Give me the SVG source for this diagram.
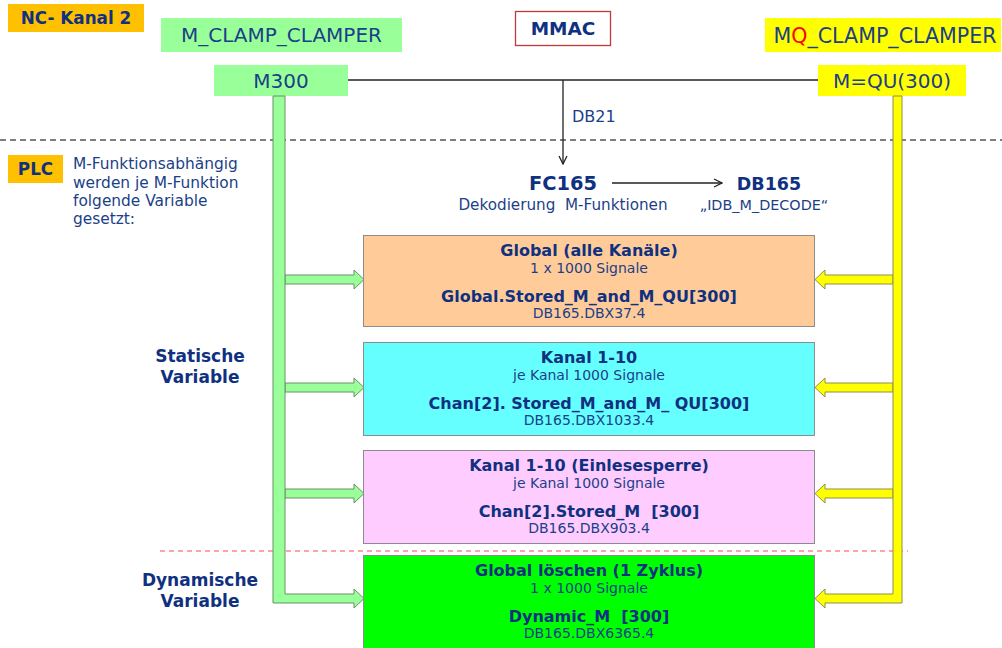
<svg xmlns="http://www.w3.org/2000/svg" width="1002" height="648" viewBox="0 0 1002 648">
  <style>
    text { font-family: "DejaVu Sans", Verdana, sans-serif; fill: #1B3F88; white-space: pre; }
    .b { font-weight: bold; fill: #0F3180; }
    .hdr { font-size: 20px; }
    .t { font-size: 16px; font-weight: bold; fill: #0F3180; text-anchor: middle; }
    .s { font-size: 14px; text-anchor: middle; }
    .c { text-anchor: middle; }
    .box { stroke: #8C8C8C; stroke-width: 1; }
    .garrow { fill: #99FF99; stroke: #6A8F6A; stroke-width: 1; }
    .yarrow { fill: #FFFF00; stroke: #8F8F50; stroke-width: 1; }
    .line { stroke: #222; stroke-width: 1.3; fill: none; }
  </style>
  <defs>
    <marker id="open" viewBox="0 0 10 10" refX="9" refY="5" markerWidth="10" markerHeight="10" markerUnits="userSpaceOnUse" orient="auto">
      <path d="M1,1 L9,5 L1,9" fill="none" stroke="#222" stroke-width="1.3"/>
    </marker>
  </defs>

  <rect width="1002" height="648" fill="#FFFFFF"/>

  <!-- section separators -->
  <line x1="0" y1="140" x2="1002" y2="140" stroke="#555" stroke-width="1.3" stroke-dasharray="6,4"/>
  <line x1="160" y1="551" x2="908" y2="551" stroke="#FF4B4B" stroke-width="1.2" stroke-dasharray="5,4"/>

  <!-- section labels -->
  <g id="nc-label">
    <rect x="8" y="4" width="136" height="28" fill="#FFC000"/>
    <text x="76" y="24" class="b c" font-size="16.8">NC- Kanal 2</text>
  </g>
  <g id="plc-label">
    <rect x="8" y="155" width="55" height="28" fill="#FFC000"/>
    <text x="35.5" y="175" class="b c" font-size="16.8">PLC</text>
  </g>
  <g id="plc-note" font-size="15.4">
    <text x="73" y="169">M-Funktionsabhängig</text>
    <text x="73" y="188">werden je M-Funktion</text>
    <text x="73" y="206">folgende Variable</text>
    <text x="73" y="224">gesetzt:</text>
  </g>

  <!-- NC side -->
  <g id="m-clamp">
    <rect x="161" y="18" width="241" height="34" fill="#99FF99"/>
    <text x="281.5" y="42" class="hdr c">M_CLAMP_CLAMPER</text>
  </g>
  <g id="mmac">
    <rect x="515.5" y="11.5" width="95" height="34" fill="#FFFFFF" stroke="#C0393B" stroke-width="1.3"/>
    <text x="563" y="35" class="b c" font-size="18.5">MMAC</text>
  </g>
  <g id="mq-clamp">
    <rect x="765" y="18" width="236" height="34" fill="#FFFF00"/>
    <text x="885" y="42.5" class="c" font-size="20.6">M<tspan fill="#FF0000">Q</tspan>_CLAMP_CLAMPER</text>
  </g>
  <g id="m300">
    <rect x="214" y="65" width="134" height="31" fill="#99FF99"/>
    <text x="281" y="88" class="hdr c">M300</text>
  </g>
  <g id="mqu300">
    <rect x="818" y="65" width="148" height="31" fill="#FFFF00"/>
    <text x="892" y="88" class="hdr c">M=QU(300)</text>
  </g>

  <!-- PLC function block -->
  <g id="fc165">
    <text x="563" y="190" class="b c" font-size="19.4">FC165</text>
    <text x="563" y="210" class="c" font-size="15.2">Dekodierung  M-Funktionen</text>
  </g>
  <g id="db165">
    <text x="769" y="190" class="b c" font-size="17.5">DB165</text>
    <text x="764" y="210" class="c" font-size="14.4">„IDB_M_DECODE“</text>
  </g>

  <!-- connectors -->
  <g id="connectors">
    <line class="line" x1="348" y1="80" x2="818" y2="80"/>
    <line class="line" x1="563" y1="80" x2="563" y2="164" marker-end="url(#open)"/>
    <text x="572" y="122" font-size="16">DB21</text>
    <line class="line" x1="612" y1="183" x2="722" y2="183" marker-end="url(#open)"/>

    <!-- M300 distribution bar -->
    <path class="garrow" d="M285,275 H354 V270 L364,279.5 L354,289 V284 H285 Z"/>
    <path class="garrow" d="M285,383 H354 V378 L364,387.5 L354,397 V392 H285 Z"/>
    <path class="garrow" d="M285,489 H354 V484 L364,493.5 L354,503 V498 H285 Z"/>
    <path class="garrow" d="M273,96 H285 V594 H354 V589 L364,598.5 L354,608 V603 H273 Z"/>

    <!-- M=QU(300) distribution bar -->
    <path class="yarrow" d="M893,275 H825 V270 L815,279.5 L825,289 V284 H893 Z"/>
    <path class="yarrow" d="M893,383 H825 V378 L815,387.5 L825,397 V392 H893 Z"/>
    <path class="yarrow" d="M893,489 H825 V484 L815,493.5 L825,503 V498 H893 Z"/>
    <path class="yarrow" d="M902,96 H893 V594 H825 V589 L815,598.5 L825,608 V603 H902 Z"/>
  </g>

  <!-- variable groups -->
  <g id="static-label">
    <text x="200" y="362" class="b c" font-size="17">Statische</text>
    <text x="200" y="383" class="b c" font-size="17">Variable</text>
  </g>
  <g id="dynamic-label">
    <text x="200" y="586" class="b c" font-size="17">Dynamische</text>
    <text x="200" y="607" class="b c" font-size="17">Variable</text>
  </g>

  <g id="global-all">
    <rect class="box" x="363.5" y="235.5" width="451" height="91" fill="#FFCC99"/>
    <text x="589" y="256" class="t">Global (alle Kanäle)</text>
    <text x="589" y="273" class="s">1 x 1000 Signale</text>
    <text x="589" y="302" class="t">Global.Stored_M_and_M_QU[300]</text>
    <text x="589" y="318" class="s">DB165.DBX37.4</text>
  </g>
  <g id="channel">
    <rect class="box" x="363.5" y="342.5" width="451" height="93" fill="#66FFFF"/>
    <text x="589" y="363" class="t">Kanal 1-10</text>
    <text x="589" y="380" class="s">je Kanal 1000 Signale</text>
    <text x="589" y="409" class="t">Chan[2]. Stored_M_and_M_ QU[300]</text>
    <text x="589" y="425" class="s">DB165.DBX1033.4</text>
  </g>
  <g id="channel-lock">
    <rect class="box" x="363.5" y="450.5" width="451" height="93" fill="#FFCCFF"/>
    <text x="589" y="471" class="t">Kanal 1-10 (Einlesesperre)</text>
    <text x="589" y="488" class="s">je Kanal 1000 Signale</text>
    <text x="589" y="517" class="t">Chan[2].Stored_M  [300]</text>
    <text x="589" y="533" class="s">DB165.DBX903.4</text>
  </g>
  <g id="global-clear">
    <rect class="box" x="363.5" y="555.5" width="451" height="95" fill="#00FF00"/>
    <text x="589" y="576" class="t">Global löschen (1 Zyklus)</text>
    <text x="589" y="593" class="s">1 x 1000 Signale</text>
    <text x="589" y="622" class="t">Dynamic_M  [300]</text>
    <text x="589" y="638" class="s">DB165.DBX6365.4</text>
  </g>
</svg>
